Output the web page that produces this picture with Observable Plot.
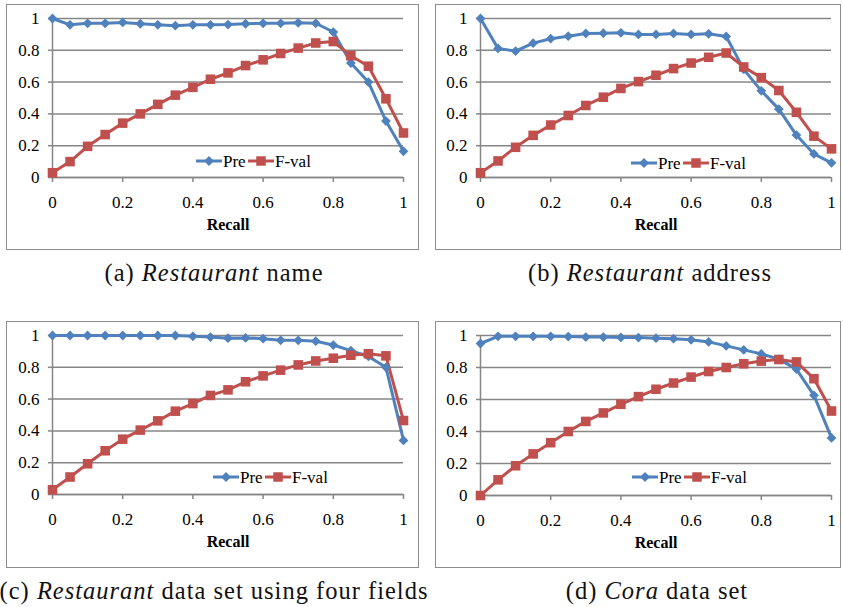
<!DOCTYPE html>
<html><head><meta charset="utf-8">
<script src="https://cdn.jsdelivr.net/npm/d3@7"></script>
<script src="https://cdn.jsdelivr.net/npm/@observablehq/plot@0.6"></script>
<style>
html,body{margin:0;padding:0;background:#fff;}
#root{position:relative;width:843px;height:607px;overflow:hidden;background:#fff;}
.panel{position:absolute;}
.border{position:absolute;box-sizing:border-box;border:1.5px solid #8c8c8c;pointer-events:none;}
.cap{position:absolute;font-family:"Liberation Serif","Times New Roman",serif;font-size:24.5px;letter-spacing:1px;color:#111;white-space:nowrap;transform:translate(-50%,-50%);}
</style></head><body><div id="root"></div>
<script>
// ---- data ----
const recall = [0,0.05,0.1,0.15,0.2,0.25,0.3,0.35,0.4,0.45,0.5,0.55,0.6,0.65,0.7,0.75,0.8,0.85,0.9,0.95,1];
const seriesNames = ["Pre","F-val"];
const xTicks = [0,0.2,0.4,0.6,0.8,1];
const xTickLabels = ["0","0.2","0.4","0.6","0.8","1"];
const yTicks = [0,0.2,0.4,0.6,0.8,1];
const yTickLabels = ["0","0.2","0.4","0.6","0.8","1"];
const axisTitle = "Recall";

const preA  = [1.0,0.96,0.97,0.97,0.975,0.967,0.96,0.955,0.96,0.96,0.962,0.967,0.97,0.97,0.973,0.97,0.915,0.72,0.60,0.355,0.165];
const fvalA = [0.03,0.10,0.196,0.27,0.342,0.40,0.46,0.518,0.567,0.618,0.658,0.704,0.74,0.78,0.814,0.846,0.855,0.766,0.70,0.495,0.28];

const preB  = [1.0,0.812,0.795,0.845,0.873,0.889,0.906,0.908,0.91,0.90,0.90,0.906,0.90,0.904,0.887,0.68,0.545,0.43,0.267,0.148,0.092];
const fvalB = [0.03,0.104,0.19,0.265,0.33,0.39,0.453,0.505,0.56,0.603,0.643,0.685,0.72,0.756,0.783,0.695,0.628,0.547,0.41,0.26,0.18];

const preC  = [1.0,1.0,1.0,1.0,1.0,1.0,1.0,1.0,0.995,0.99,0.983,0.985,0.98,0.97,0.97,0.964,0.94,0.905,0.868,0.80,0.34];
const fvalC = [0.03,0.11,0.193,0.275,0.348,0.405,0.463,0.524,0.572,0.623,0.658,0.709,0.746,0.782,0.815,0.84,0.857,0.876,0.885,0.872,0.465];

const preD  = [0.95,0.995,0.995,0.995,0.995,0.993,0.99,0.99,0.988,0.987,0.983,0.98,0.973,0.96,0.935,0.91,0.885,0.852,0.79,0.626,0.36];
const fvalD = [0.0,0.098,0.186,0.26,0.33,0.40,0.463,0.516,0.57,0.618,0.664,0.703,0.74,0.775,0.80,0.823,0.84,0.85,0.835,0.73,0.528];

const captions = [
  ["(a) ","Restaurant"," name"],
  ["(b) ","Restaurant"," address"],
  ["(c) ","Restaurant"," data set using four fields"],
  ["(d) ","Cora"," data set"]
];

// ---- style / layout ----
const BLUE = "#4F81BD", RED = "#C0504D", GRID = "#868686";
const FONT = "'Liberation Serif','Times New Roman',serif";

const panels = [
  {pre:preA, fval:fvalA, cap:captions[0], left:6,   top:4,   width:413, height:246, mL:46, mR:16, mT:14, mB:73, lgX:144, lgY:-16, capX:214, capY:273},
  {pre:preB, fval:fvalB, cap:captions[1], left:435, top:4,   width:406, height:246, mL:45, mR:10, mT:14, mB:73, lgX:151, lgY:-14, capX:650, capY:273},
  {pre:preC, fval:fvalC, cap:captions[2], left:6,   top:321, width:413, height:247, mL:46, mR:16, mT:14, mB:74, lgX:161, lgY:-17, capX:214, capY:591},
  {pre:preD, fval:fvalD, cap:captions[3], left:435, top:321, width:406, height:247, mL:45, mR:10, mT:14, mB:73, lgX:152, lgY:-18, capX:657, capY:591}
];

const fmtFrom = (ticks, labels) => d => labels[ticks.findIndex(t => Math.abs(t - d) < 1e-9)];

function legendMark(lx, ly) {
  return (index, scales, values, dims) => {
    const g = d3.create("svg:g")
      .attr("transform", `translate(${dims.marginLeft + lx},${dims.height - dims.marginBottom + ly})`);
    const items = [
      {name: seriesNames[0], color: BLUE, sym: d3.symbolDiamond2, size: 64, textW: 25},
      {name: seriesNames[1], color: RED, sym: d3.symbolSquare, size: 90, textW: 40}
    ];
    let x = 0;
    for (const it of items) {
      g.append("line").attr("x1", x).attr("x2", x + 26).attr("y1", 0).attr("y2", 0)
        .attr("stroke", it.color).attr("stroke-width", 3);
      g.append("path").attr("transform", `translate(${x + 13},0)`)
        .attr("d", d3.symbol(it.sym, it.size)()).attr("fill", it.color);
      g.append("text").attr("x", x + 27).attr("y", 0).attr("dy", "0.35em")
        .attr("text-anchor", "start").attr("font-family", FONT)
        .attr("font-size", 17).attr("fill", "#000").text(it.name);
      x += 27 + it.textW;
    }
    return g.node();
  };
}

const root = document.getElementById("root");

for (const p of panels) {
  const rows = recall.map((r, i) => ({recall: r, pre: p.pre[i], fval: p.fval[i]}));
  const chart = Plot.plot({
    width: p.width, height: p.height,
    marginLeft: p.mL, marginRight: p.mR, marginTop: p.mT, marginBottom: p.mB,
    style: {fontFamily: FONT, fontSize: "17px", color: "#000", background: "transparent", overflow: "visible"},
    x: {domain: [0, 1]},
    y: {domain: [0, 1]},
    marks: [
      Plot.gridY(yTicks, {stroke: GRID, strokeOpacity: 1, strokeWidth: 1.5}),
      Plot.ruleX([0], {stroke: GRID, strokeWidth: 1.5}),
      Plot.ruleY([0], {stroke: GRID, strokeWidth: 1.5}),
      Plot.axisY(yTicks, {tickSize: 4, tickPadding: 9, tickFormat: fmtFrom(yTicks, yTickLabels), stroke: GRID, strokeWidth: 1.5, fill: "#000", label: null, fontSize: 17}),
      Plot.axisX(xTicks, {tickSize: 5, tickPadding: 13, tickFormat: fmtFrom(xTicks, xTickLabels), stroke: GRID, strokeWidth: 1.5, fill: "#000", label: null, fontSize: 17}),
      Plot.line(rows, {x: "recall", y: "pre", stroke: BLUE, strokeWidth: 3}),
      Plot.line(rows, {x: "recall", y: "fval", stroke: RED, strokeWidth: 3}),
      Plot.dot(rows, {x: "recall", y: "pre", symbol: "diamond2", r: 4.4, fill: BLUE, stroke: "none"}),
      Plot.dot(rows, {x: "recall", y: "fval", symbol: "square", r: 5.4, fill: RED, stroke: "none"}),
      Plot.text([axisTitle], {text: d => d, frameAnchor: "bottom", dy: 52, fontWeight: "bold", fontSize: 16, fill: "#000"}),
      legendMark(p.lgX, p.lgY)
    ]
  });
  const holder = document.createElement("div");
  holder.className = "panel";
  holder.style.left = p.left + "px";
  holder.style.top = p.top + "px";
  holder.appendChild(chart);
  root.appendChild(holder);

  const b = document.createElement("div");
  b.className = "border";
  b.style.left = p.left + "px"; b.style.top = p.top + "px";
  b.style.width = p.width + "px"; b.style.height = p.height + "px";
  root.appendChild(b);

  const c = document.createElement("div");
  c.className = "cap";
  c.style.left = p.capX + "px"; c.style.top = p.capY + "px";
  c.innerHTML = `${p.cap[0]}<i>${p.cap[1]}</i>${p.cap[2]}`;
  root.appendChild(c);
}
</script>
</body></html>
